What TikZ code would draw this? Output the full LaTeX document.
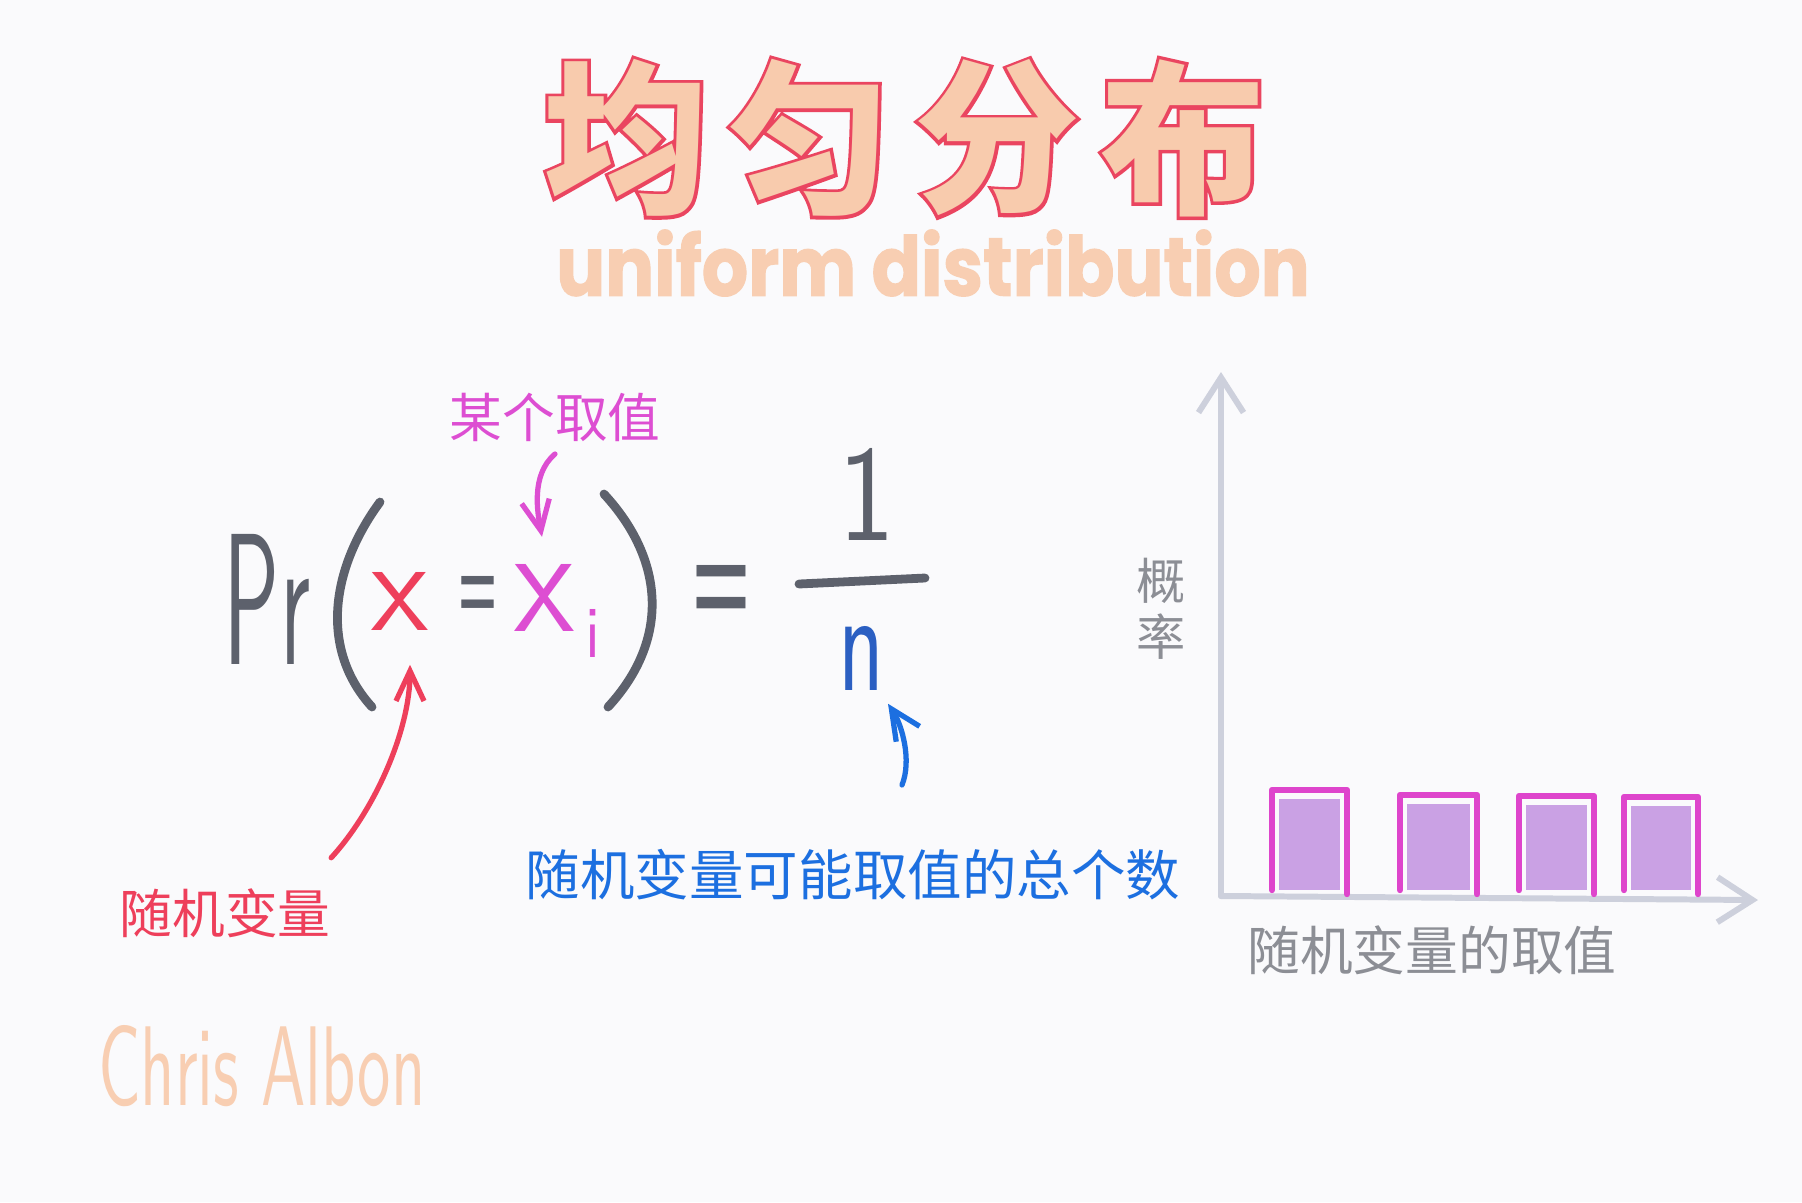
\documentclass[tikz,border=0pt]{standalone}
\usepackage{fontspec}
\usepackage{graphicx}
\usetikzlibrary{arrows.meta}
\newfontfamily\cjk{Noto Sans CJK SC}
\newfontfamily\cjkrim[FakeBold=4]{Noto Sans CJK SC}
\newfontfamily\heavy{Poppins}
\newfontfamily\heavier[FakeBold=1.5]{Poppins}
\definecolor{Paper}{HTML}{FAFAFC}
\definecolor{TitleFill}{HTML}{F8CBAD}
\definecolor{TitleRim}{HTML}{EA4560}
\definecolor{Peach}{HTML}{F8CEB2}
\definecolor{Ink}{HTML}{5D616C}
\definecolor{Rose}{HTML}{EE3F5B}
\definecolor{Orchid}{HTML}{DD4ED2}
\definecolor{Azure}{HTML}{1C6FE0}
\definecolor{Navy}{HTML}{2B5FC2}
\definecolor{Pencil}{HTML}{8C8E95}
\definecolor{AxisGray}{HTML}{CDD0DC}
\definecolor{BarEdge}{HTML}{DE45CC}
\definecolor{BarFill}{HTML}{C598E2}
\tikzset{
    rimchar/.style={font=\cjkrim\bfseries\fontsize{47}{47}\selectfont, text=TitleRim, inner sep=0pt},
    fillchar/.style={font=\cjk\bfseries\fontsize{47}{47}\selectfont, text=TitleFill, inner sep=0pt},
    note/.style={font=\cjk\fontsize{15}{15}\selectfont, inner sep=0pt},
    ink/.style={inner sep=0pt, font=\sffamily, text=Ink},
    pen/.style={line width=1.5pt, line cap=round, -{Straight Barb[length=0.3cm, width=0.28cm]}},
    axis/.style={draw=AxisGray, line width=1.7pt, line cap=round, -{Straight Barb[length=0.35cm, width=0.45cm]}},
    bar/.style={draw=BarEdge, line width=1.8pt, line cap=round, line join=round},
}
\begin{document}
\begin{tikzpicture}[x=0.01cm, y=-0.01cm]
    % Fondo
    \fill[Paper] (0,0) rectangle (1802,1202);

    % Titolo
    \foreach \c/\x/\nm in {均/626/jun, 匀/810/yun, 分/997/fen, 布/1183/bu} {
        \node[rimchar] (\nm rim) at (\x,138) {\c};
        \node[fillchar] (\nm) at (\x,138) {\c};
    }
    \node[text=Peach, inner sep=0pt] (subtitle) at (933,263)
        {\resizebox{7.53cm}{0.66cm}{\heavier\bfseries uniform distribution}};

    % Formula
    \node[ink] (pr) at (267,599) {\resizebox{0.86cm}{1.3cm}{Pr}};
    \draw[Ink, line width=2.5pt, line cap=round] (380,502) .. controls (330,570) and (320,650) .. (372,707);
    \node[ink, text=Rose] (xvar) at (400,601) {\resizebox{0.57cm}{0.58cm}{x}};
    \node[ink] (eqa) at (478,604) {\resizebox{0.45cm}{0.56cm}{\heavy =}};
    \node[ink, text=Orchid] (xi) at (545,598) {\resizebox{0.6cm}{0.67cm}{x}};
    \node[ink, text=Orchid] (sub) at (593,633) {\resizebox{0.15cm}{0.48cm}{i}};
    \draw[Ink, line width=2.5pt, line cap=round] (604,494) .. controls (665,560) and (670,640) .. (608,707);
    \node[ink] (eqb) at (722,603) {\resizebox{0.68cm}{0.76cm}{\heavy =}};
    \node[ink] (one) at (867,494) {\resizebox{0.57cm}{0.92cm}{1}};
    \draw[Ink, line width=2.5pt, line cap=round] (799,584) -- (925,578);
    \node[ink, text=Navy] (nn) at (862,658) {\resizebox{0.46cm}{0.64cm}{n}};

    % Etichette
    \node[note, text=Orchid] (lblvalue) at (555,417) {某个取值};
    \node[note, text=Rose] (lblvar) at (225,913) {随机变量};
    \node[note, text=Azure, font=\cjk\fontsize{15.5}{15.5}\selectfont] (lblcount) at (853,875) {随机变量可能取值的总个数};
    \coordinate (countfoot) at (902,785);

    % Frecce
    \draw[pen, Orchid] ([yshift=-0.12cm]lblvalue.south) .. controls (530,475) and (538,515) .. ([xshift=-0.03cm, yshift=0.27cm]xi.north);
    \draw[pen, Rose] ([yshift=0.3cm]lblvar.north east) .. controls (375,810) and (410,730) .. ([xshift=0.1cm, yshift=-0.34cm]xvar.south);
    \draw[pen, Azure] (countfoot) .. controls (912,760) and (902,725) .. ([xshift=0.26cm, yshift=-0.13cm]nn.south);

    % Grafico
    \coordinate (origin) at (1221,896);
    \coordinate (ytop) at (1221,372);
    \coordinate (xend) at (1758,900);
    \draw[axis] (origin) -- (ytop);
    \draw[axis] (origin) -- (xend);
    \foreach \l/\r/\t in {1272/1347/790, 1400/1477/795, 1519/1594/796, 1624/1698/797} {
        \fill[BarFill, opacity=0.9] (\l+7,\t+9) rectangle (\r-7,890);
        \draw[bar] (\l,890) -- (\l,\t) -- (\r,\t) -- (\r,894);
    }
    \node[note, text=Pencil, align=center, font=\cjk\fontsize{14}{16}\selectfont] (ylabel) at (1161,609) {概\\率};
    \node[note, text=Pencil] (xlabel) at (1432,950) {随机变量的取值};

    % Firma
    \node[ink, text=Peach] (signature) at (262,1066) {\resizebox{3.27cm}{0.8cm}{Chris Albon}};
\end{tikzpicture}
\end{document}
